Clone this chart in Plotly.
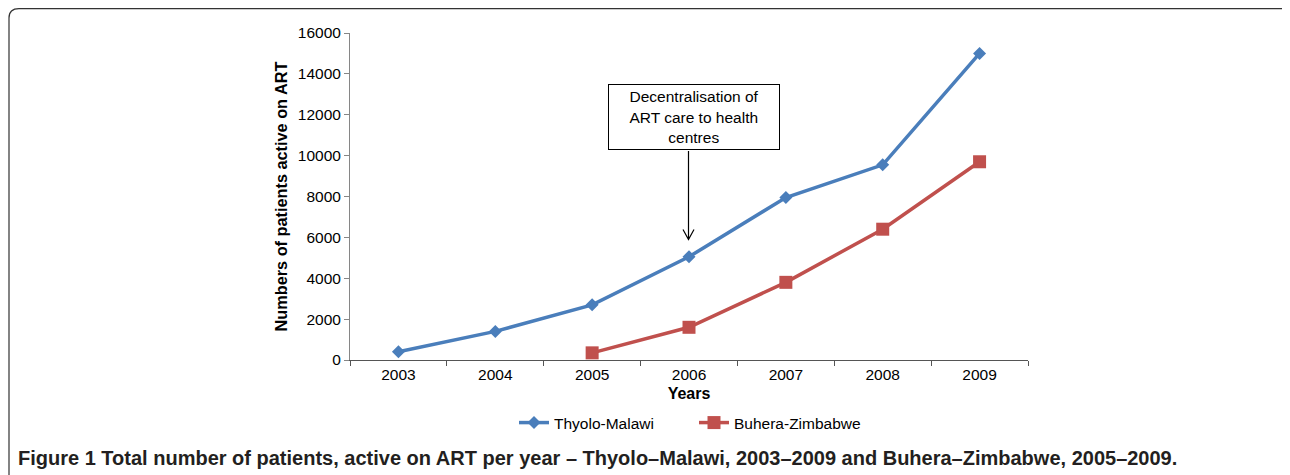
import plotly.graph_objects as go

years = ["2003", "2004", "2005", "2006", "2007", "2008", "2009"]
thyolo = [400, 1400, 2700, 5050, 7950, 9550, 15000]
buhera_years = ["2005", "2006", "2007", "2008", "2009"]
buhera = [350, 1600, 3800, 6400, 9700]

y_ticks = [0, 2000, 4000, 6000, 8000, 10000, 12000, 14000, 16000]

# page offset (default body margin) and page-space geometry of plot area
OFF = 8
PW, PH = 1290, 475
W, H = PW - OFF, PH - OFF
L, R, T, B = 350 - OFF, 1028 - OFF, 33 - OFF, 360 - OFF

def px(x):  # page x -> paper
    return ((x - OFF) - L) / (R - L)
def py(y):  # page y -> paper
    return (B - (y - OFF)) / (B - T)

fig = go.Figure()
fig.add_trace(go.Scatter(
    x=years, y=thyolo, mode="lines+markers", name="Thyolo-Malawi",
    line=dict(color="#4A7EBB", width=3.5),
    marker=dict(symbol="diamond", size=10, color="#4A7EBB"),
))
fig.add_trace(go.Scatter(
    x=buhera_years, y=buhera, mode="lines+markers", name="Buhera-Zimbabwe",
    line=dict(color="#C0504D", width=3.5),
    marker=dict(symbol="square", size=13, color="#C0504D"),
))

font_family = "Liberation Sans, Arial, sans-serif"

fig.update_layout(
    width=W, height=H,
    margin=dict(l=L, r=W - R, t=T, b=H - B),
    paper_bgcolor="white", plot_bgcolor="white",
    font=dict(family=font_family, size=15.5, color="black"),
    showlegend=True,
    legend=dict(orientation="h", x=px(514), y=py(423), xanchor="left", yanchor="middle",
                font=dict(size=15.5), entrywidth=135, entrywidthmode="pixels",
                tracegroupgap=0, itemwidth=30),
    xaxis=dict(
        type="category", categoryorder="array", categoryarray=years,
        range=[-0.5, 6.5],
        showline=True, linecolor="#555555", linewidth=1,
        ticks="outside", tickson="boundaries", ticklen=5, tickcolor="#555555",
        showgrid=False, zeroline=False,
        tickfont=dict(size=15.5),
        title=dict(text="<b>Years</b>", font=dict(size=16), standoff=6),
    ),
    yaxis=dict(
        range=[0, 16000], tickvals=y_ticks, tickformat="d",
        showline=True, linecolor="#868686", linewidth=1,
        ticks="outside", ticklen=5, tickcolor="#868686",
        showgrid=False, zeroline=False,
        tickfont=dict(size=15.5),
        title=dict(text="<b>Numbers of patients active on ART</b>", font=dict(size=16.3), standoff=6),
    ),
)

# arrow from text box down to the 2006 point (open V head)
ax_x = 688.5
tail_y, tip_y = 151, 239.5
fig.add_shape(
    type="path", xref="paper", yref="paper",
    path=(f"M {px(ax_x)},{py(tail_y)} L {px(ax_x)},{py(tip_y)} "
          f"M {px(ax_x - 5.5)},{py(tip_y - 10)} L {px(ax_x)},{py(tip_y)} L {px(ax_x + 5.5)},{py(tip_y - 10)}"),
    line=dict(color="black", width=1.2),
)
# text box
fig.add_annotation(
    x=px(694), y=py(117), xref="paper", yref="paper",
    text="Decentralisation of<br>ART care to health<br>centres",
    showarrow=False, xanchor="center", yanchor="middle",
    width=168, height=62, align="center",
    bordercolor="black", borderwidth=1, bgcolor="white",
    font=dict(size=15.5, family=font_family, color="black"),
)

# caption
fig.add_annotation(
    x=px(16), y=py(458), xref="paper", yref="paper", xanchor="left", yanchor="middle",
    text="<b>Figure 1 Total number of patients, active on ART per year – Thyolo–Malawi, 2003–2009 and Buhera–Zimbabwe, 2005–2009.</b>",
    showarrow=False,
    font=dict(size=20, family=font_family, color="#231f20"),
)

# outer rounded frame (open on right/bottom)
x_r, x_l, x_c = px(1300), px(9), px(19)
y_t, y_c, y_b = py(8.7), py(18), py(490)
fig.add_shape(
    type="path", xref="paper", yref="paper",
    path=f"M {x_r},{y_t} L {x_c},{y_t} Q {x_l},{y_t} {x_l},{y_c} L {x_l},{y_b}",
    line=dict(color="#333333", width=1.2),
)

fig.write_html("out.html")
